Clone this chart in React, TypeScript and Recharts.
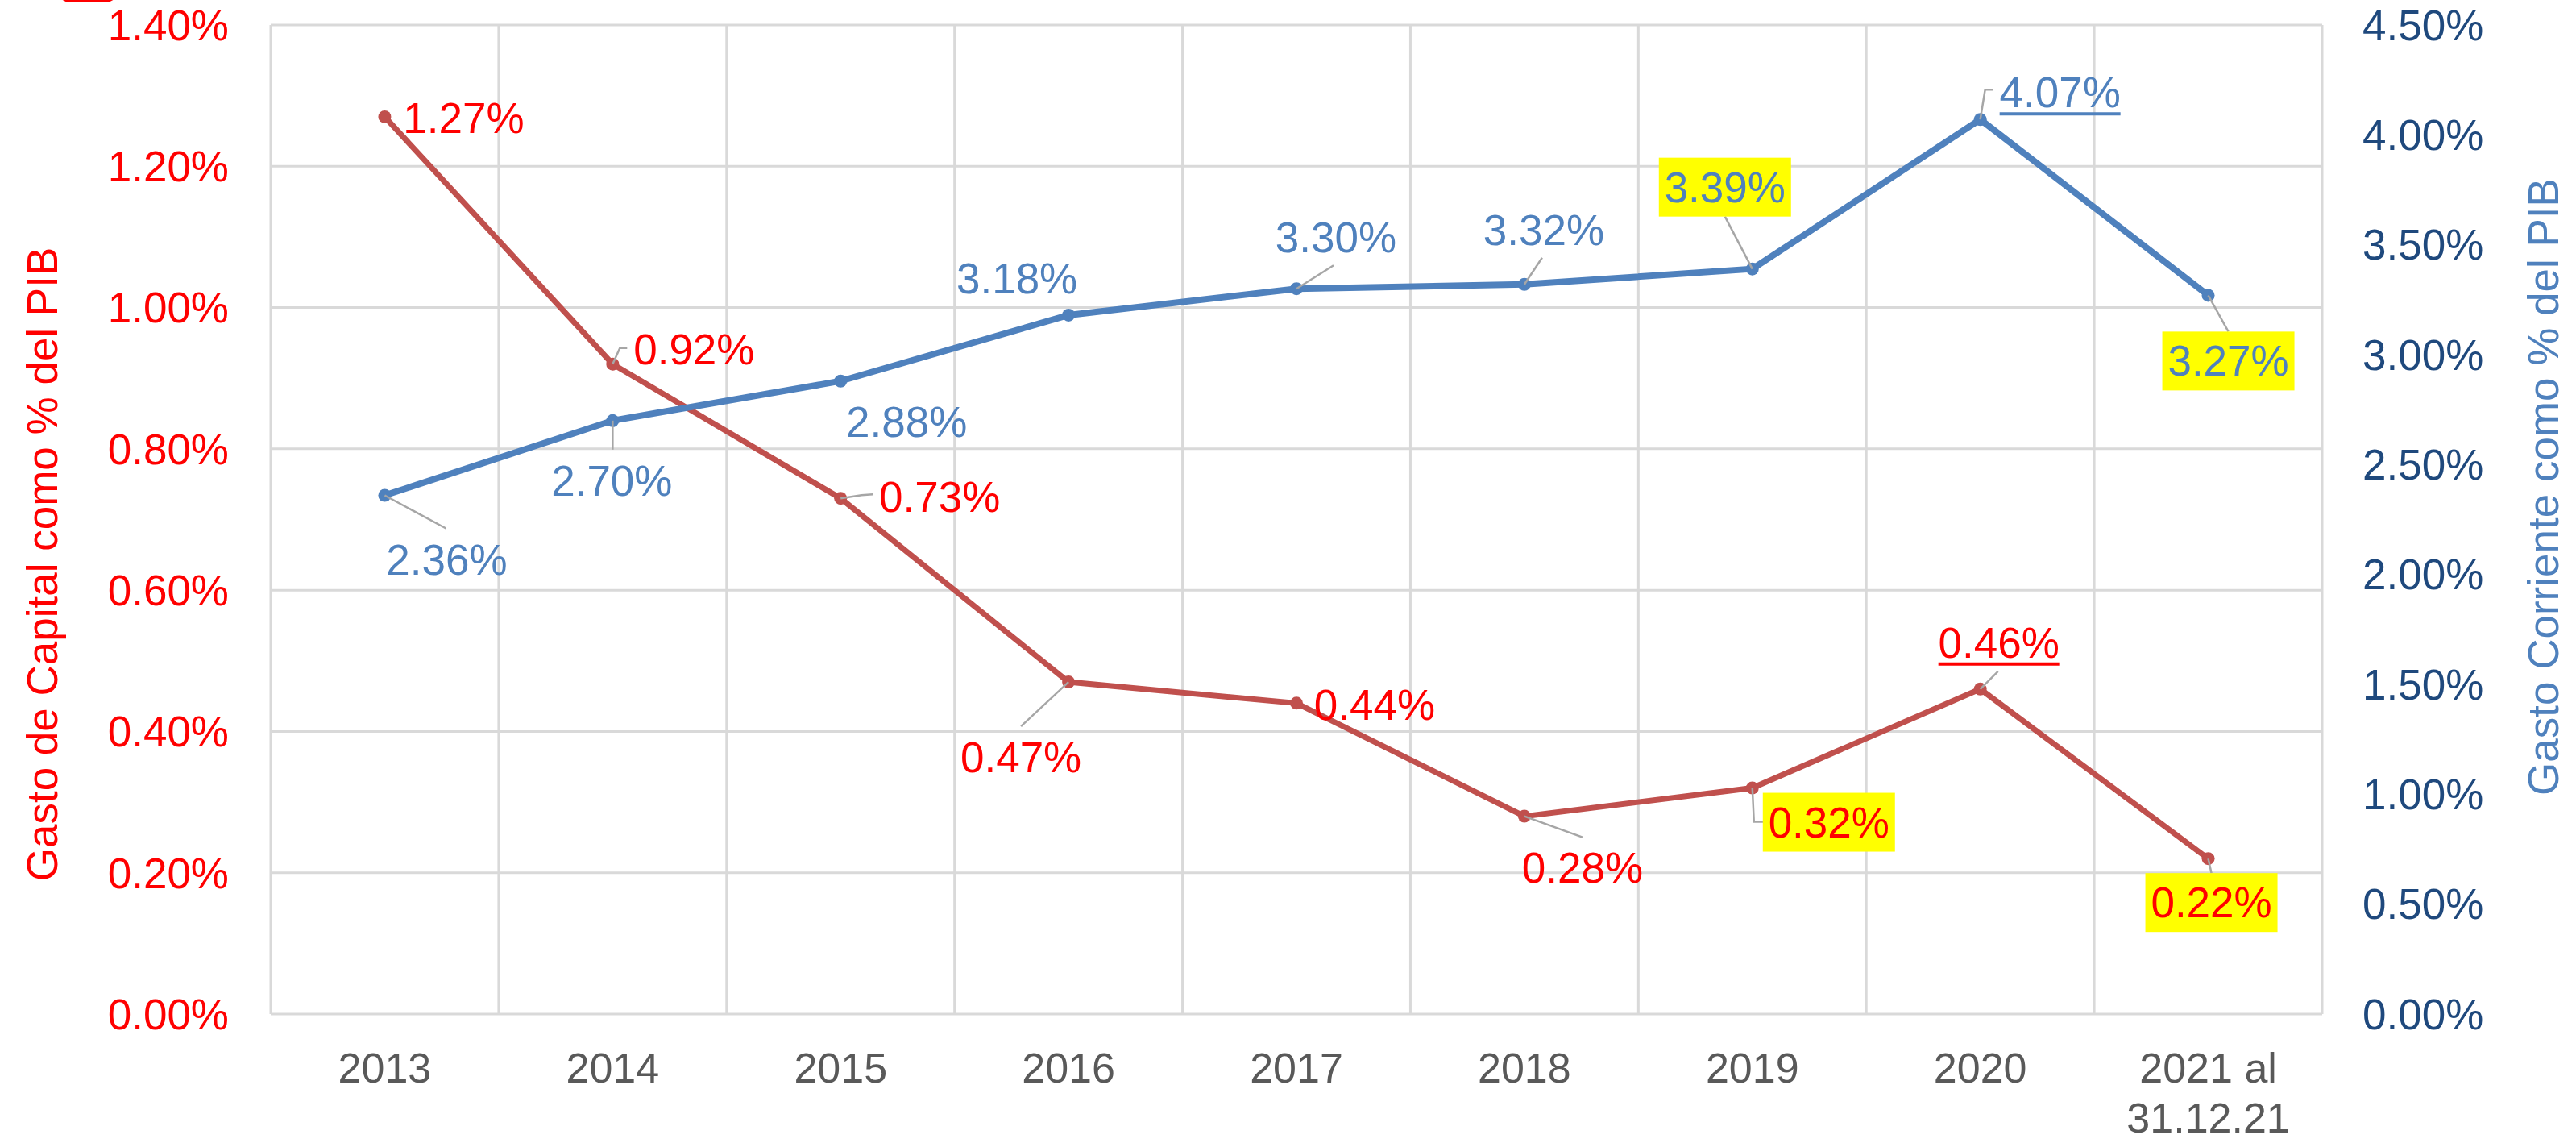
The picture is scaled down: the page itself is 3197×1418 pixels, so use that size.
import {
  LineChart,
  Line,
  XAxis,
  YAxis,
  CartesianGrid,
} from "recharts";

const FONT = '"Liberation Sans", Arial, sans-serif';

// categories (second line of the last one goes under the year)
const years = ["2013", "2014", "2015", "2016", "2017", "2018", "2019", "2020", "2021 al\n31.12.21"];
// gasto de capital, % del PIB (left axis)
const gastoCapital = [1.27, 0.92, 0.73, 0.47, 0.44, 0.28, 0.32, 0.46, 0.22];
// gasto corriente, % del PIB (right axis)
const gastoCorriente = [2.36, 2.7, 2.88, 3.18, 3.3, 3.32, 3.39, 4.07, 3.27];

const leftTicks = [0, 0.2, 0.4, 0.6, 0.8, 1.0, 1.2, 1.4];
const rightTicks = [0, 0.5, 1.0, 1.5, 2.0, 2.5, 3.0, 3.5, 4.0, 4.5];

const data = years.map((year, i) => ({
  year,
  capital: gastoCapital[i],
  corriente: gastoCorriente[i],
}));

// where each data label sits relative to its point (Excel-style manual placement)
type LabelLayout = {
  dx: number;
  dy: number;
  leader?: number[][];
  box?: boolean;
  underline?: boolean;
};

const capitalLabels: LabelLayout[] = [
  { dx: 98, dy: 1 },
  { dx: 101, dy: -19, leader: [[9, -20], [18, -20]] },
  { dx: 123, dy: -2, leader: [[26, -4], [40, -5]] },
  { dx: -59, dy: 93, leader: [[-59, 55]] },
  { dx: 97, dy: 2 },
  { dx: 72, dy: 63, leader: [[72, 26]] },
  { dx: 95, dy: 42, leader: [[2, 42], [14, 42]], box: true },
  { dx: 23, dy: -58, leader: [[22, -22]], underline: true },
  { dx: 4, dy: 54, leader: [[4, 18]], box: true },
];

const corrienteLabels: LabelLayout[] = [
  { dx: 77, dy: 79, leader: [[76, 41]] },
  { dx: -1, dy: 74, leader: [[0, 36]] },
  { dx: 82, dy: 50 },
  { dx: -64, dy: -46 },
  { dx: 49, dy: -64, leader: [[46, -29]] },
  { dx: 24, dy: -68, leader: [[22, -33]] },
  { dx: -34, dy: -102, leader: [[-34, -65]], box: true },
  { dx: 99, dy: -34, leader: [[6, -37], [16, -37]], underline: true },
  { dx: 25, dy: 81, leader: [[25, 45]], box: true },
];

const pct = (v: number) => `${Number(v).toFixed(2)}%`;

function makeLabel(layouts: LabelLayout[], values: number[], color: string) {
  return (props: any) => {
    const { index } = props;
    const x = props.x ?? props.viewBox?.x;
    const y = props.y ?? props.viewBox?.y;
    const l = layouts[index];
    if (!l || x == null || y == null) return null;
    const value = props.value ?? values[index];
    const cx = x + l.dx;
    const cy = y + l.dy;
    const pts = [[x, y], ...(l.leader ?? []).map(([a, b]) => [x + a, y + b])];
    return (
      <g key={`lbl-${color}-${index}`}>
        {l.leader && (
          <polyline
            points={pts.map((p) => p.join(",")).join(" ")}
            fill="none"
            stroke="#A6A6A6"
            strokeWidth={2.5}
          />
        )}
        {l.box && <rect x={cx - 82} y={cy - 36} width={164} height={73} fill="#FFFF00" />}
        <text
          x={cx}
          y={cy}
          dy="0.36em"
          textAnchor="middle"
          fill={color}
          fontSize={53}
          fontFamily={FONT}
        >
          {pct(value)}
        </text>
        {l.underline && (
          <line x1={cx - 75} x2={cx + 75} y1={cy + 27} y2={cy + 27} stroke={color} strokeWidth={4} />
        )}
      </g>
    );
  };
}

const XTick = ({ x, y, payload }: any) => {
  const lines = String(payload.value).split("\n");
  return (
    <text x={x} y={y} textAnchor="middle" fill="#595959" fontSize={52} fontFamily={FONT}>
      {lines.map((line, i) => (
        <tspan key={i} x={x} dy={i === 0 ? "0.71em" : 62}>
          {line}
        </tspan>
      ))}
    </text>
  );
};

function App() {
  return (
    <div style={{ position: "absolute", left: 0, top: 0, width: 3197, height: 1418, background: "#fff" }}>
      <div
        style={{
          position: "absolute",
          left: 71,
          top: -30,
          width: 76,
          height: 33,
          borderRadius: 16,
          border: "3px solid #FF0000",
          boxSizing: "border-box",
        }}
      />
      <LineChart
        width={3197}
        height={1418}
        data={data}
        margin={{ top: 31, right: 0, bottom: 0, left: 0 }}
      >
        <CartesianGrid
          yAxisId="left"
          stroke="#D9D9D9"
          strokeWidth={3}
          verticalCoordinatesGenerator={({ offset }: any) =>
            Array.from({ length: years.length + 1 }, (_, i) => offset.left + (i * offset.width) / years.length)
          }
        />
        <XAxis
          dataKey="year"
          scale="band"
          height={160}
          axisLine={false}
          tickLine={false}
          tickSize={0}
          tickMargin={48}
          interval={0}
          tick={<XTick />}
        />
        <YAxis
          yAxisId="left"
          orientation="left"
          width={336}
          domain={[0, 1.4]}
          ticks={leftTicks}
          interval={0}
          axisLine={false}
          tickLine={false}
          tickSize={0}
          tickMargin={52}
          tickFormatter={pct}
          tick={{ fill: "#FF0000", fontSize: 53, fontFamily: FONT }}
          label={() => (
            <text
              x={52}
              y={700}
              transform="rotate(-90 52 700)"
              textAnchor="middle"
              dy="0.36em"
              fill="#FF0000"
              fontSize={53}
              fontFamily={FONT}
            >
              Gasto de Capital como % del PIB
            </text>
          )}
        />
        <YAxis
          yAxisId="right"
          orientation="right"
          width={315}
          domain={[0, 4.5]}
          ticks={rightTicks}
          interval={0}
          axisLine={false}
          tickLine={false}
          tickSize={0}
          tickMargin={50}
          tickFormatter={pct}
          tick={{ fill: "#1F497D", fontSize: 53, fontFamily: FONT }}
          label={() => (
            <text
              x={3156}
              y={604}
              transform="rotate(-90 3156 604)"
              textAnchor="middle"
              dy="0.36em"
              fill="#4F81BD"
              fontSize={53}
              fontFamily={FONT}
            >
              Gasto Corriente como % del PIB
            </text>
          )}
        />
        <Line
          yAxisId="left"
          type="linear"
          dataKey="capital"
          stroke="#C0504D"
          strokeWidth={7}
          dot={{ r: 8, fill: "#C0504D", stroke: "#C0504D", strokeWidth: 0 }}
          activeDot={false}
          isAnimationActive={false}
          label={makeLabel(capitalLabels, gastoCapital, "#FF0000")}
        />
        <Line
          yAxisId="right"
          type="linear"
          dataKey="corriente"
          stroke="#4F81BD"
          strokeWidth={8}
          dot={{ r: 8, fill: "#4F81BD", stroke: "#4F81BD", strokeWidth: 0 }}
          activeDot={false}
          isAnimationActive={false}
          label={makeLabel(corrienteLabels, gastoCorriente, "#4F81BD")}
        />
      </LineChart>
    </div>
  );
}

export default App;
